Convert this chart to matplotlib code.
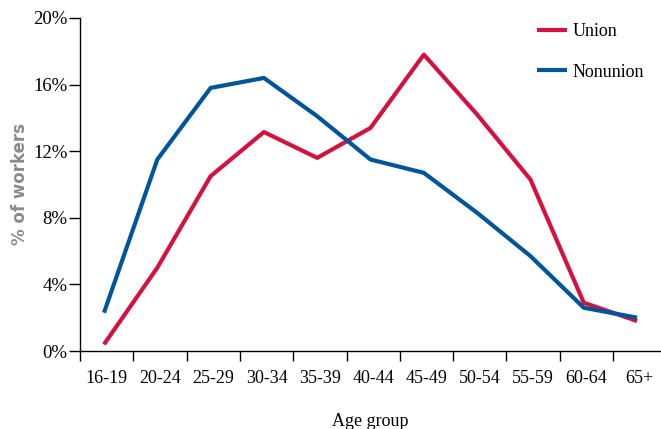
import matplotlib
matplotlib.use("Agg")
import matplotlib.pyplot as plt
import numpy as np

categories = ["16-19", "20-24", "25-29", "30-34", "35-39", "40-44",
              "45-49", "50-54", "55-59", "60-64", "65+"]
union = [0.4, 5.0, 10.5, 13.15, 11.6, 13.4, 17.8, 14.2, 10.3, 2.9, 1.8]
nonunion = [2.3, 11.5, 15.8, 16.4, 14.1, 11.5, 10.7, 8.3, 5.7, 2.6, 2.0]
yticks = [0, 4, 8, 12, 16, 20]

RED = "#D5123F"
BLUE = "#00559C"
serif = ["Liberation Serif", "DejaVu Serif"]

fig = plt.figure(figsize=(6.61, 4.29), dpi=100)
ax = fig.add_axes([80/661, 78/429, 580/661, 333/429])

x = np.arange(len(categories))
ax.plot(x - 0.05, union, color=RED, lw=3.0, label="Union", solid_capstyle="butt")
ax.plot(x - 0.05, nonunion, color=BLUE, lw=3.0, label="Nonunion", solid_capstyle="butt")

ax.set_ylim(0, 20)
ax.set_xlim(-0.5, 10.38)
ax.set_yticks(yticks)
ax.set_yticklabels([f"{v}%" for v in yticks], fontfamily=serif, fontsize=13.5)

ax.set_xticks([k - 0.5 for k in range(len(categories))])
ax.set_xticklabels([])
ax.set_xticks(x, minor=True)
ax.set_xticklabels(categories, minor=True, fontfamily=serif, fontsize=13)
ax.tick_params(axis="x", which="minor", length=0, pad=14)
ax.tick_params(axis="x", which="major", length=7, direction="out", width=1)
ax.tick_params(axis="y", length=8, direction="out", width=1, pad=1)

for s in ["top", "right"]:
    ax.spines[s].set_visible(False)
for s in ["left", "bottom"]:
    ax.spines[s].set_linewidth(1)

ax.set_xlabel("Age group", fontfamily=serif, fontsize=13, labelpad=18.5)
ax.set_ylabel("% of workers", fontfamily="DejaVu Sans", fontweight="bold",
              color="#8a8a8a", fontsize=12, labelpad=3)

leg = ax.legend(loc="upper right", bbox_to_anchor=(1.0, 1.033), frameon=False,
                prop={"family": serif, "size": 13}, handlelength=1.65,
                handletextpad=0.3, labelspacing=1.3)

fig.savefig("out.png", dpi=100)
